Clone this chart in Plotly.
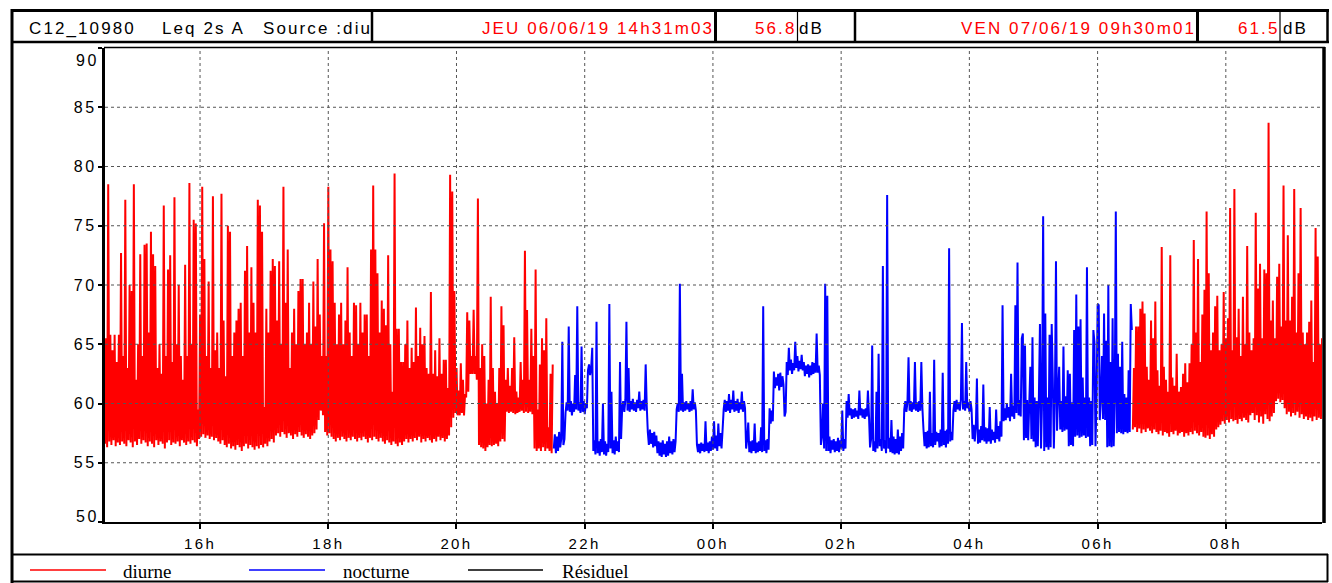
import pandas as pd
import plotly.graph_objects as go

# ---------------- data (Leq 2s, dB(A)) ----------------
debut_soir = "2019-06-06 14:31:03"
diurne_soir = [
    56.6, 65.5, 56.3, 78.5, 56.8, 65.8, 56.5, 64.5, 56.9, 65.8, 56.4, 63.5, 56.7, 65.8, 56.5, 72.7, 56.8, 64.0, 56.6, 77.2,
    56.4, 63.0, 56.9, 70.0, 56.7, 69.5, 56.3, 78.5, 56.8, 62.0, 56.5, 65.0, 57.0, 72.6, 56.6, 64.0, 56.9, 73.4, 56.7, 73.5,
    56.4, 66.0, 56.8, 74.5, 56.6, 72.6, 56.3, 71.6, 56.9, 63.0, 56.5, 65.0, 56.8, 62.5, 56.6, 76.7, 56.2, 64.0, 56.7, 71.3,
    56.9, 72.5, 56.5, 63.5, 56.7, 77.4, 56.6, 65.0, 56.8, 70.0, 56.4, 64.0, 56.9, 62.0, 56.7, 71.7, 56.5, 64.0, 56.8, 78.6,
    56.6, 65.0, 56.9, 75.5, 56.7, 75.2, 56.4, 59.5, 57.0, 67.5, 57.2, 78.3, 57.4, 72.2, 57.1, 64.0, 57.3, 70.3, 57.0, 63.0,
    57.2, 77.5, 56.9, 64.5, 57.1, 66.0, 56.8, 63.0, 56.6, 77.7, 56.9, 67.0, 56.5, 62.3, 56.3, 75.0, 56.6, 74.5, 56.2, 64.0,
    56.4, 66.0, 56.1, 67.0, 56.5, 68.0, 56.3, 68.5, 56.0, 64.0, 56.4, 71.2, 56.6, 73.3, 56.2, 66.0, 56.5, 71.5, 56.3, 68.5,
    56.1, 66.0, 56.4, 77.2, 56.2, 76.7, 56.5, 74.5, 56.3, 59.7, 56.6, 68.0, 56.4, 66.0, 56.8, 71.2, 57.0, 72.2, 56.7, 71.6,
    57.3, 67.0, 57.5, 72.0, 57.2, 65.0, 57.6, 78.3, 57.4, 68.5, 57.1, 73.0, 57.5, 63.0, 57.3, 66.0, 57.0, 68.0, 57.4, 65.0,
    57.2, 69.5, 57.6, 70.5, 57.3, 70.5, 57.1, 65.0, 57.4, 66.0, 57.2, 68.5, 57.0, 65.0, 57.3, 70.3, 57.5, 66.5, 57.8, 72.2,
    58.6, 67.5, 59.4, 64.0, 59.0, 75.2, 57.6, 64.0, 57.3, 78.3, 57.5, 73.0, 57.2, 72.0, 57.0, 68.5, 56.8, 65.0, 57.1, 67.5,
    56.9, 68.5, 57.2, 65.0, 57.0, 67.0, 56.8, 71.5, 57.1, 66.0, 56.9, 64.0, 57.2, 68.5, 57.0, 68.3, 56.8, 65.0, 57.1, 68.5,
    56.9, 66.0, 57.2, 67.5, 57.0, 67.5, 56.7, 64.0, 57.1, 73.0, 56.9, 78.4, 57.2, 73.0, 57.0, 71.0, 56.8, 66.0, 57.1, 68.7,
    56.8, 68.0, 56.6, 66.6, 56.9, 72.5, 56.7, 65.0, 56.5, 61.0, 56.8, 79.4, 56.6, 66.3, 56.4, 66.3, 56.7, 63.5, 56.5, 63.5,
    56.8, 65.0, 57.0, 67.0, 56.7, 63.0, 57.0, 64.7, 56.8, 63.5, 57.1, 68.1, 56.9, 64.0, 57.2, 66.4, 56.7, 65.0, 57.0, 65.7,
    56.8, 63.0, 57.1, 62.5, 56.9, 69.4, 56.7, 62.5, 57.0, 64.5, 56.8, 62.3, 57.2, 65.5, 56.9, 62.5, 57.1, 63.7, 56.8, 63.7,
    57.0, 61.3, 57.3, 79.3, 58.0, 77.9, 58.8, 69.5, 59.2, 63.0, 59.0, 61.1, 59.0, 63.4, 59.2, 62.0, 59.0, 60.8, 60.5, 67.7,
    61.0, 67.0, 62.5, 64.0, 62.5, 67.9, 62.5, 64.0, 62.0, 77.3, 56.5, 63.0, 56.3, 65.0, 56.2, 64.0, 56.0, 60.0, 56.3, 62.0,
    56.5, 69.0, 56.4, 63.0, 56.5, 61.0, 56.6, 60.0, 56.4, 63.0, 56.8, 68.2, 57.0, 66.6, 56.8, 62.0, 59.3, 63.0, 59.2, 61.5,
    59.3, 63.0, 59.2, 65.6, 59.1, 61.0, 59.2, 60.5, 59.3, 63.5, 59.4, 62.0, 59.2, 72.9, 59.3, 67.9, 59.2, 62.0, 59.3, 66.3,
    59.1, 64.0, 56.2, 71.3, 56.0, 59.5, 56.2, 63.3, 56.0, 65.5, 56.3, 64.5, 56.0, 67.2, 56.2, 58.0, 56.0, 62.5, 55.8, 63.3,
]

debut_nuit = "2019-06-06 21:31:03"
nocturne = [
    56.2, 57.4, 55.8, 57.2, 56.0, 57.6, 56.3, 57.0, 65.2, 56.5, 57.0, 59.2, 60.1, 59.4, 66.5, 59.3, 60.2, 59.0, 60.0, 59.3,
    62.4, 59.5, 68.2, 59.4, 60.1, 59.2, 64.8, 59.3, 60.2, 59.1, 60.0, 59.6, 62.8, 63.3, 62.4, 63.0, 64.7, 56.0, 56.9, 55.7,
    66.9, 55.8, 56.8, 55.6, 57.0, 55.9, 60.0, 55.7, 56.8, 55.6, 56.6, 55.9, 68.4, 56.2, 61.0, 55.8, 56.9, 55.7, 57.2, 56.0,
    56.8, 55.9, 63.5, 57.0, 59.6, 60.2, 59.3, 60.3, 66.9, 59.4, 63.0, 59.3, 60.2, 59.5, 60.4, 59.4, 60.1, 59.3, 60.3, 59.6,
    61.0, 59.4, 60.2, 59.5, 60.3, 59.4, 63.3, 59.8, 57.6, 56.5, 57.8, 56.6, 57.5, 56.3, 57.6, 56.4, 57.3, 55.8, 56.8, 55.6,
    56.7, 55.5, 56.9, 55.7, 56.6, 55.5, 56.8, 55.6, 57.2, 55.8, 56.8, 55.7, 57.0, 55.9, 56.8, 59.5, 60.0, 59.3, 70.1, 59.4,
    62.5, 59.3, 60.1, 59.4, 60.2, 59.5, 60.0, 59.3, 60.2, 59.4, 61.2, 59.5, 60.1, 59.4, 56.5, 55.9, 56.6, 55.8, 56.7, 56.0,
    56.6, 55.9, 58.5, 56.0, 56.7, 55.8, 56.8, 56.0, 57.2, 56.1, 58.5, 56.2, 57.3, 56.0, 58.3, 56.4, 57.5, 56.2, 57.8, 59.5,
    60.3, 59.3, 60.2, 59.4, 60.8, 59.2, 60.3, 59.5, 61.1, 59.3, 60.2, 59.4, 60.4, 59.2, 60.1, 59.5, 61.0, 59.3, 60.2, 59.6,
    56.2, 57.0, 58.4, 55.9, 56.8, 55.8, 56.9, 56.0, 58.3, 55.8, 56.7, 55.9, 56.8, 56.0, 58.0, 55.9, 68.2, 56.0, 56.9, 55.8,
    57.0, 56.1, 59.6, 58.3, 59.4, 58.5, 62.7, 61.3, 62.2, 61.5, 62.5, 61.1, 62.6, 61.4, 62.3, 61.6, 58.9, 59.3, 63.5, 62.4,
    64.7, 62.8, 63.7, 62.5, 63.4, 62.8, 65.2, 63.0, 64.0, 62.7, 63.6, 62.9, 64.1, 62.8, 63.5, 62.3, 63.2, 62.5, 63.3, 62.2,
    63.2, 62.4, 63.5, 62.5, 63.4, 62.6, 65.9, 62.6, 63.2, 62.4, 56.5, 57.2, 60.0, 56.2, 70.1, 56.0, 69.1, 56.0, 57.2, 55.8,
    56.9, 56.1, 57.0, 55.9, 56.8, 56.0, 57.1, 55.9, 56.9, 56.2, 59.4, 56.0, 57.0, 56.2, 60.2, 58.8, 60.8, 59.0, 59.6, 58.7,
    59.5, 58.8, 59.6, 58.9, 59.4, 58.7, 61.1, 59.0, 59.6, 58.8, 59.5, 58.7, 59.6, 58.9, 61.1, 59.0, 56.3, 57.0, 64.9, 56.0,
    56.8, 55.9, 61.0, 56.2, 64.2, 56.4, 57.0, 56.0, 71.6, 56.2, 56.9, 55.8, 77.6, 56.2, 57.1, 55.9, 58.6, 55.8, 57.2, 55.7,
    57.0, 55.8, 57.8, 55.7, 57.2, 56.0, 57.5, 56.2, 59.5, 60.2, 59.3, 60.1, 63.9, 59.4, 60.2, 59.3, 60.1, 59.5, 63.5, 59.4,
    60.1, 59.3, 60.2, 59.4, 63.5, 59.6, 57.8, 56.4, 57.6, 56.2, 57.7, 56.3, 61.0, 56.4, 57.5, 56.3, 63.7, 56.5, 57.6, 56.8,
    57.5, 56.3, 57.8, 56.4, 62.6, 56.5, 57.7, 56.3, 57.8, 56.6, 73.1, 56.8, 57.6, 56.9, 59.4, 60.2, 59.3, 60.3, 59.5, 60.1,
    59.4, 60.3, 66.8, 59.5, 60.2, 59.4, 63.5, 59.6, 60.1, 59.3, 60.2, 59.5, 57.0, 58.2, 56.8, 58.0, 62.1, 56.6, 57.8, 56.7,
    58.1, 56.9, 61.6, 56.8, 58.0, 56.6, 57.9, 56.8, 59.7, 56.6, 57.8, 56.9, 57.6, 56.7, 59.5, 57.0, 58.1, 56.8, 58.5, 57.2,
    68.3, 58.5, 59.6, 58.6, 60.0, 58.8, 59.7, 58.5, 62.5, 58.9, 59.8, 58.7, 68.3, 59.2, 71.9, 59.0, 60.3, 58.9, 65.5, 65.9,
    56.9, 64.9, 57.1, 60.3, 56.9, 60.0, 63.1, 57.0, 65.6, 56.8, 60.5, 56.3, 60.2, 56.4, 60.5, 66.7, 56.2, 60.3, 75.8, 56.0,
    67.6, 56.3, 60.5, 56.1, 65.8, 56.3, 66.7, 62.2, 56.2, 60.4, 72.0, 57.7, 60.8, 63.1, 57.8, 60.2, 57.6, 64.8, 57.7, 60.6,
    57.8, 62.8, 56.4, 62.5, 56.5, 60.1, 56.4, 66.2, 57.2, 69.2, 57.3, 66.5, 57.1, 67.1, 57.2, 62.2, 57.3, 60.5, 57.1, 71.5,
    57.2, 60.5, 56.4, 60.2, 56.5, 66.2, 65.2, 56.4, 60.6, 68.4, 68.3, 58.6, 60.4, 64.0, 58.7, 67.6, 58.6, 65.3, 56.3, 70.0,
    56.4, 63.5, 56.3, 67.2, 56.4, 60.3, 76.2, 57.5, 64.2, 57.6, 63.1, 57.5, 65.2, 57.4, 60.8, 57.6, 60.5, 57.5, 62.8, 57.6,
    68.4, 66.2,
]

debut_matin = "2019-06-07 06:33:01"
diurne_matin = [
    57.8, 63.0, 58.0, 66.5, 57.6, 66.5, 57.9, 68.0, 57.5, 68.6, 57.8, 67.6, 57.6, 63.1, 57.9, 62.0, 57.7, 67.0, 57.5, 65.5,
    57.8, 68.6, 57.6, 62.8, 57.4, 61.5, 57.7, 73.2, 57.3, 63.1, 57.6, 62.0, 57.5, 61.0, 57.2, 72.5, 57.6, 62.2, 57.4, 61.5,
    57.7, 64.2, 57.3, 61.0, 57.5, 61.4, 57.6, 62.5, 57.2, 63.4, 57.5, 61.8, 57.3, 63.4, 57.6, 65.0, 57.4, 73.8, 57.7, 66.0,
    57.5, 72.2, 57.3, 63.5, 57.6, 67.5, 57.2, 69.6, 57.1, 76.2, 57.3, 71.0, 57.0, 64.5, 57.4, 66.0, 57.2, 68.2, 57.8, 69.1,
    58.0, 64.5, 58.2, 65.0, 58.5, 69.4, 58.3, 65.5, 58.6, 67.2, 58.4, 76.5, 58.7, 64.5, 58.5, 78.1, 58.6, 65.6, 58.3, 68.0,
    58.7, 64.0, 58.5, 69.0, 58.8, 65.0, 58.6, 73.3, 58.4, 66.0, 59.0, 64.5, 59.2, 65.5, 58.6, 76.1, 59.0, 69.7, 58.4, 71.8,
    58.9, 65.5, 58.3, 71.3, 59.1, 71.0, 58.7, 83.7, 58.5, 67.0, 58.9, 68.7, 59.2, 65.5, 60.2, 70.7, 60.4, 71.8, 60.1, 66.5,
    60.3, 78.4, 59.6, 67.0, 59.1, 74.2, 59.3, 67.0, 58.9, 69.0, 59.2, 78.1, 59.0, 66.0, 59.3, 71.0, 58.8, 76.5, 59.1, 66.0,
    58.7, 65.0, 58.9, 66.0, 58.6, 66.9, 58.8, 68.7, 58.5, 63.5, 58.9, 74.8, 58.6, 72.4, 58.8, 65.0, 58.7, 65.5,
]

heures_ticks = ["2019-06-06 16:00", "2019-06-06 18:00", "2019-06-06 20:00", "2019-06-06 22:00",
                "2019-06-07 00:00", "2019-06-07 02:00", "2019-06-07 04:00", "2019-06-07 06:00",
                "2019-06-07 08:00"]
heures_labels = ["16h", "18h", "20h", "22h", "00h", "02h", "04h", "06h", "08h"]
niveaux_ticks = [50, 55, 60, 65, 70, 75, 80, 85, 90]
debut_mesure = "2019-06-06 14:31:03"
fin_mesure = "2019-06-07 09:30:01"

# ---------------- figure ----------------
W, H = 1332, 583
L, R, T, B = 105, 10, 48, 61
PW, PH = W - L - R, H - T - B


def px(x):
    return (x - L) / PW


def py(y):
    return (H - B - y) / PH


def temps(debut, n):
    return pd.date_range(debut, periods=n, freq="1min")


fig = go.Figure()
fig.add_trace(go.Scatter(x=temps(debut_soir, len(diurne_soir)), y=diurne_soir, mode="lines",
                         line=dict(color="#ff0000", width=2, simplify=False), name="diurne"))
fig.add_trace(go.Scatter(x=temps(debut_nuit, len(nocturne)), y=nocturne, mode="lines",
                         line=dict(color="#0000ff", width=2, simplify=False), name="nocturne"))
fig.add_trace(go.Scatter(x=temps(debut_matin, len(diurne_matin)), y=diurne_matin, mode="lines",
                         line=dict(color="#ff0000", width=2, simplify=False), name="diurne", showlegend=False))

shapes = []
# grid (drawn above traces, dotted)
for t in heures_ticks:
    shapes.append(dict(type="line", xref="x", yref="paper", x0=t, x1=t, y0=0, y1=1, layer="above",
                       line=dict(color="#555555", width=1, dash="dot")))
for v in niveaux_ticks[1:-1]:
    shapes.append(dict(type="line", xref="paper", yref="y", x0=0, x1=1, y0=v, y1=v, layer="above",
                       line=dict(color="#555555", width=1, dash="dot")))


def hline(y, x0, x1, w, c="black"):
    shapes.append(dict(type="line", xref="paper", yref="paper", x0=px(x0), x1=px(x1), y0=py(y), y1=py(y),
                       line=dict(color=c, width=w), layer="above"))


def vline(x, y0, y1, w, c="black"):
    shapes.append(dict(type="line", xref="paper", yref="paper", x0=px(x), x1=px(x), y0=py(y0), y1=py(y1),
                       line=dict(color=c, width=w), layer="above"))


# header frame
hline(10.5, 11, 1329, 3)
hline(42, 11, 1329, 2.5)
for xv, wv in [(372, 2.5), (715.5, 3), (797.5, 1.2), (855, 2.5), (1197.5, 3), (1280, 1.2), (1327.5, 2.5)]:
    vline(xv, 10, 42, wv)
# outer left frame
vline(12, 9, 583, 3)
# plot frame (top thin, right thick)
hline(47.5, 104, 1325, 1.5)
vline(1324, 47, 523, 3.5)
# legend box
hline(554.5, 11, 1328, 2)
hline(581.5, 11, 1328, 2)
vline(1327.5, 554, 582, 2)
# legend samples
hline(570, 30, 106, 1.5, "#ff0000")
hline(570, 249, 325, 1.5, "#0000ff")
hline(570, 468, 543, 1.5, "black")

annotations = []
SANS = "Liberation Sans, Arial, sans-serif"
SERIF = "Liberation Serif, Times New Roman, serif"


def texte(t, x, y, ancre="left", couleur="black", taille=17, police=SANS, espacement=2.1):
    if espacement:
        t = f'<span style="letter-spacing:{espacement}px">{t}</span>'
    annotations.append(dict(text=t, x=px(x), y=py(y), xref="paper", yref="paper", xanchor=ancre,
                            yanchor="middle", showarrow=False, font=dict(family=police, size=taille, color=couleur)))


texte("C12_10980", 27, 28)
texte("Leq 2s A", 160, 28)
texte("Source :diu", 261, 28)
texte("JEU 06/06/19 14h31m03", 716, 28, "right", "#ff0000")
texte("56.8", 799, 28, "right", "#ff0000")
texte("dB", 797, 28)
texte("VEN 07/06/19 09h30m01", 1198, 28, "right", "#ff0000")
texte("61.5", 1282, 28, "right", "#ff0000")
texte("dB", 1281, 28)
texte("diurne", 121, 571, taille=19, police=SERIF, espacement=0)
texte("nocturne", 341, 571, taille=19, police=SERIF, espacement=0)
texte("Résiduel", 560, 571, taille=19, police=SERIF, espacement=0)

# y tick labels: the end labels (50, 90) are kept inside the axis extent, as in the reference
sp_y = '<span style="letter-spacing:2.6px">{}</span>'
y_labels = [sp_y.format(v) if v not in (niveaux_ticks[0], niveaux_ticks[-1]) else "" for v in niveaux_ticks]
for v, dy in [(niveaux_ticks[-1], -12), (niveaux_ticks[0], 6)]:
    annotations.append(dict(text=sp_y.format(v), x=0, y=v, xref="paper", yref="y", xanchor="right",
                            yanchor="middle", xshift=-4, yshift=dy, showarrow=False,
                            font=dict(family=SANS, size=16, color="black")))

sp_x = '<span style="letter-spacing:2.4px">{}</span>'
fig.update_layout(
    width=W, height=H,
    margin=dict(l=L, r=R, t=T, b=B, pad=0, autoexpand=False),
    paper_bgcolor="white", plot_bgcolor="white",
    showlegend=False,
    font=dict(family=SANS, size=15, color="black"),
    shapes=shapes, annotations=annotations,
    xaxis=dict(type="date", range=[debut_mesure, fin_mesure], tickmode="array",
               tickvals=heures_ticks, ticktext=[sp_x.format(h) for h in heures_labels],
               ticks="outside", ticklen=5, tickwidth=2, tickcolor="black", ticklabelstandoff=2,
               showline=True, linecolor="black", linewidth=2, showgrid=False, zeroline=False,
               automargin=False,
               tickfont=dict(size=15, family=SANS, color="black")),
    yaxis=dict(range=[50, 90], tickmode="array", tickvals=niveaux_ticks, ticktext=y_labels,
               ticks="outside", ticklen=4, tickwidth=1.5, tickcolor="black", ticklabelstandoff=-2,
               showline=True, linecolor="black", linewidth=3, showgrid=False, zeroline=False,
               automargin=False,
               tickfont=dict(size=16, family=SANS, color="black")),
)

fig.write_html("out.html", config={"displayModeBar": False},
               post_script="document.body.style.margin='0px';document.body.style.padding='0px';")
